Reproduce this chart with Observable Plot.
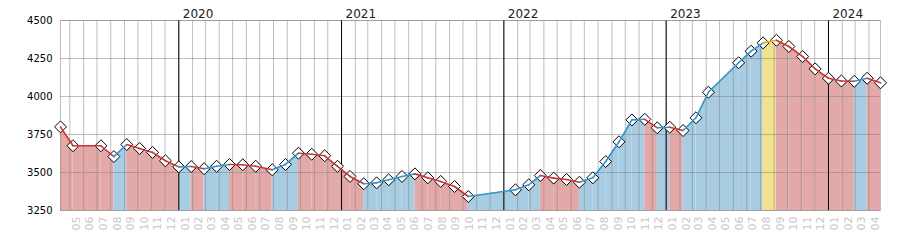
<!DOCTYPE html>
<html>
<head>
<meta charset="utf-8">
<script src="https://cdn.jsdelivr.net/npm/d3@7"></script>
<script src="https://cdn.jsdelivr.net/npm/@observablehq/plot@0.6"></script>
<style>
  html, body { margin: 0; padding: 0; background: #fff; }
  #chart svg { display: block; }
</style>
</head>
<body>
<div id="chart"></div>
<script>
// ---- data ----
const dates = [
  "2019-04-10","2019-05-08","2019-07-10","2019-08-08","2019-09-06","2019-10-05","2019-11-03","2019-12-02",
  "2020-01-01","2020-01-29","2020-02-27","2020-03-26","2020-04-24","2020-05-24","2020-06-22","2020-07-29",
  "2020-08-28","2020-09-26","2020-10-26","2020-11-24","2020-12-23",
  "2021-01-20","2021-02-20","2021-03-21","2021-04-17","2021-05-17","2021-06-15","2021-07-14","2021-08-12",
  "2021-09-12","2021-10-13",
  "2022-01-27","2022-02-26","2022-03-24","2022-04-23","2022-05-22","2022-06-20","2022-07-20","2022-08-18",
  "2022-09-17","2022-10-16","2022-11-14","2022-12-12",
  "2023-01-09","2023-02-08","2023-03-09","2023-04-06","2023-06-13","2023-07-11","2023-08-07","2023-09-06",
  "2023-10-04","2023-11-04","2023-12-02",
  "2024-01-01","2024-01-30","2024-02-28","2024-03-28","2024-04-27"
];
const values = [
  3800, 3676, 3676, 3605, 3684, 3658, 3632, 3577,
  3537, 3539, 3525, 3541, 3553, 3551, 3541, 3518,
  3553, 3627, 3620, 3610, 3541,
  3474, 3426, 3432, 3452, 3474, 3491, 3465, 3441,
  3408, 3342,
  3386, 3419, 3480, 3463, 3454, 3436, 3465, 3572,
  3702, 3846, 3850, 3794,
  3798, 3776, 3860, 4028, 4222, 4298, 4353, 4370,
  4329, 4263, 4182,
  4120, 4102, 4100, 4120, 4090
];
const yTicks = [3250, 3500, 3750, 4000, 4250, 4500];
const yearLabels = ["2020", "2021", "2022", "2023", "2024"];
const firstMonth = "2019-05-01";
const lastMonth = "2024-04-01";

// ---- styles ----
const fillColor = {up: "#a8cde3", down: "#e3a8a8", peak: "#f3e18e"};
const lineColor = {up: "#3594cc", down: "#cc3333", peak: "#e2b21c"};

// ---- derived tables ----
const parse = d3.utcParse("%Y-%m-%d");
const pts = dates.map((d, i) => ({date: parse(d), v: values[i]}));
const maxV = d3.max(values);
const segs = [];
for (let i = 0; i < pts.length - 1; i++) {
  const a = pts[i], b = pts[i + 1];
  const cat = b.v === maxV ? "peak" : (b.v > a.v ? "up" : "down");
  segs.push({date: a.date, v: a.v, seg: i, cat});
  segs.push({date: b.date, v: b.v, seg: i, cat});
}
const months = d3.utcMonth.range(parse(firstMonth), d3.utcDay.offset(parse(lastMonth), 1));
const years = yearLabels.map(y => ({date: parse(y + "-01-01"), label: y}));

const chart = Plot.plot({
  width: 900,
  height: 250,
  marginLeft: 60,
  marginRight: 20,
  marginTop: 20,
  marginBottom: 40,
  style: {fontFamily: "DejaVu Sans", fontSize: "10px", background: "#fff"},
  x: {type: "utc", domain: [pts[0].date, pts[pts.length - 1].date], axis: null, label: null},
  y: {domain: [3250, 4500], axis: null, label: null},
  marks: [
    Plot.areaY(segs, {x: "date", y1: 3250, y2: "v", z: "seg", fill: d => fillColor[d.cat], curve: "linear"}),
    Plot.ruleY(yTicks, {stroke: "#808080", strokeOpacity: 0.5}),
    Plot.ruleX(months, {stroke: "#808080", strokeOpacity: 0.5}),
    Plot.ruleX(years, {x: "date", stroke: "#000", strokeWidth: 1}),
    Plot.frame({stroke: "#808080", strokeOpacity: 0.5}),
    Plot.dot(pts, {x: "date", y: "v", symbol: "diamond2", r: 5.4, stroke: "#000", fill: "#fff", strokeWidth: 1, strokeLinejoin: "round"}),
    Plot.line(segs, {x: "date", y: "v", z: "seg", stroke: d => lineColor[d.cat], strokeWidth: 1.6}),
    Plot.axisY({ticks: yTicks, tickSize: 0, tickPadding: 8, tickFormat: d => String(d), fontSize: 10, fill: "#000", label: null}),
    Plot.text(years, {x: "date", text: "label", frameAnchor: "top", lineAnchor: "bottom", textAnchor: "start", dx: 4, dy: -3, fontSize: 12, fill: "#222"}),
    Plot.text(months, {x: d => d3.utcDay.offset(d, 14), text: d => d3.utcFormat("%m")(d), frameAnchor: "bottom", rotate: -90, textAnchor: "end", lineAnchor: "middle", dy: 6, fontSize: 11, fill: "#c8c8c8"})
  ]
});
document.getElementById("chart").appendChild(chart);
</script>
</body>
</html>
